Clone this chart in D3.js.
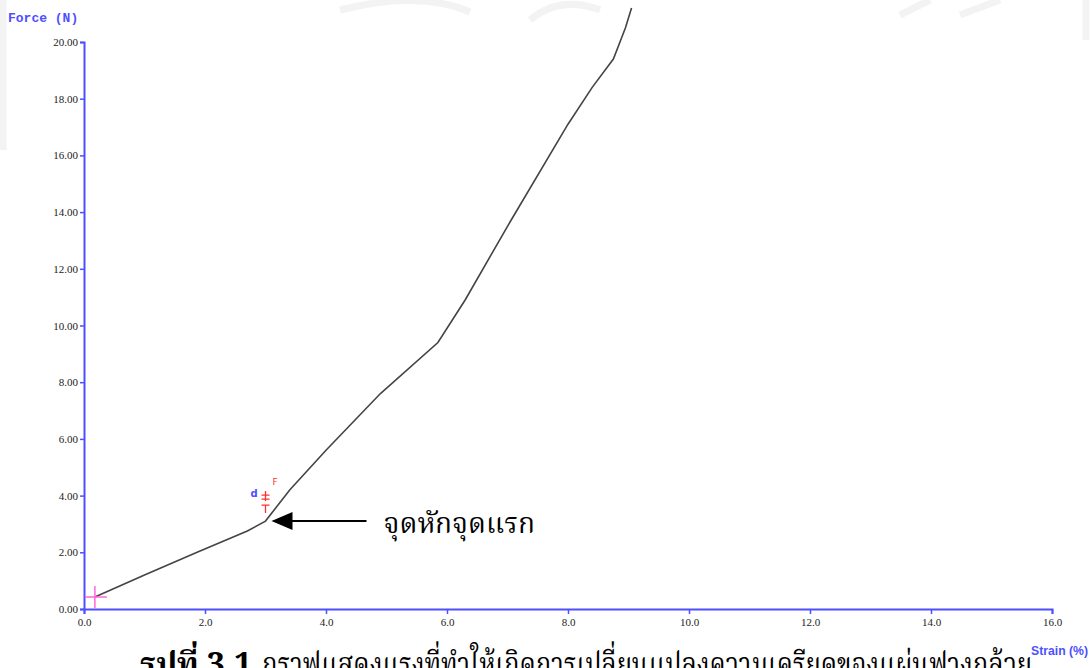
<!DOCTYPE html>
<html>

<head>
  <meta charset="utf-8">
  <title></title>
  <script src="https://cdnjs.cloudflare.com/ajax/libs/d3/7.8.5/d3.min.js"></script>
  <style>
    body { margin: 0; background: #fff; overflow: hidden; }
  </style>
</head>

<body>
<script>
const width = 1091;
const height = 668;

// strain (%) and force (N)
const strain = [0.18, 1.0, 1.87, 2.7, 3.0, 3.4, 4.0, 4.9, 5.85, 6.3, 7.0, 8.0, 8.4, 8.75, 8.95, 9.05];
const force  = [0.42, 1.2, 2.0, 2.75, 3.1, 4.2, 5.6, 7.6, 9.4, 10.9, 13.5, 17.1, 18.4, 19.4, 20.5, 21.2];

const xTicks = [0, 2, 4, 6, 8, 10, 12, 14, 16];
const yTicks = [0, 2, 4, 6, 8, 10, 12, 14, 16, 18, 20];

const startPoint = [0.18, 0.42];
const breakPoint = [3.0, 3.1];

const breakLabel = 'จุดหักจุดแรก';
const captionBold = 'รูปที่ 3.1';
const captionText = 'กราฟแสดงแรงที่ทำให้เกิดการเปลี่ยนแปลงความเครียดของแผ่นฟางกล้วย';

const blue = '#4f4fff';

const svg = d3.select('body').append('svg')
	.attr('width', width)
	.attr('height', height);

const xScale = d3.scaleLinear()
	.domain([0, 16])
	.range([84, 1052]);

const yScale = d3.scaleLinear()
	.domain([0, 20])
	.range([609, 42]);

// faint watermark bits
const wm = svg.append('g').attr('fill', 'none').attr('stroke', '#f3f3f3').attr('stroke-width', 7);
wm.append('line').attr('x1', 3).attr('y1', 0).attr('x2', 3).attr('y2', 150);
wm.append('line').attr('x1', 1086).attr('y1', 0).attr('x2', 1086).attr('y2', 40);
wm.append('path').attr('d', 'M340,10 Q420,-10 470,12');
wm.append('path').attr('d', 'M530,20 Q560,-5 600,10');
wm.append('path').attr('d', 'M900,15 L930,0 M960,15 L1000,0');

// axes
const xAxis = d3.axisBottom(xScale)
	.tickValues(xTicks)
	.tickSize(5)
	.tickPadding(4)
	.tickFormat(d3.format('.1f'));

const yAxis = d3.axisLeft(yScale)
	.tickValues(yTicks)
	.tickSize(4)
	.tickPadding(2)
	.tickFormat(d3.format('.2f'));

const gx = svg.append('g')
	.attr('transform', 'translate(0 ' + yScale(0) + ')')
	.call(xAxis);

const gy = svg.append('g')
	.attr('transform', 'translate(' + xScale(0) + ' 0)')
	.call(yAxis);

[gx, gy].forEach((g) => {
	g.select('.domain').attr('stroke', blue).attr('stroke-width', 2);
	g.selectAll('.tick line').attr('stroke', blue).attr('stroke-width', 1.5);
	g.selectAll('.tick text')
		.attr('fill', '#222')
		.style('font-family', 'Liberation Serif, serif')
		.style('font-size', '11px');
});

// axis titles
svg.append('text')
	.attr('x', 8)
	.attr('y', 22)
	.attr('fill', blue)
	.style('font-family', 'Liberation Mono, DejaVu Sans Mono, monospace')
	.style('font-size', '13px')
	.style('font-weight', 'bold')
	.text('Force  (N)');

// curve
svg.append('path')
	.datum(d3.zip(strain, force))
	.attr('fill', 'none')
	.attr('stroke', '#444')
	.attr('stroke-width', 1.6)
	.attr('d', d3.line()
		.x((d) => xScale(d[0]))
		.y((d) => yScale(d[1]))
	);

// start marker (pink cross)
const sx = xScale(startPoint[0]);
const sy = yScale(startPoint[1]);
svg.append('path')
	.attr('d', 'M' + (sx - 10) + ',' + sy + 'H' + (sx + 12) + 'M' + sx + ',' + (sy - 11) + 'V' + (sy + 11))
	.attr('stroke', '#ff66dd')
	.attr('stroke-width', 1.5)
	.attr('fill', 'none');

// break point markers
const bx = xScale(breakPoint[0]);
const by = yScale(breakPoint[1]);
svg.append('path')
	.attr('d', 'M' + (bx - 4) + ',' + (by - 16) + 'H' + (bx + 4) + 'M' + bx + ',' + (by - 16) + 'V' + (by - 8)
		+ 'M' + (bx - 4) + ',' + (by - 26) + 'H' + (bx + 4) + 'M' + (bx - 4) + ',' + (by - 22) + 'H' + (bx + 4)
		+ 'M' + bx + ',' + (by - 30) + 'V' + (by - 20))
	.attr('stroke', '#ff3030')
	.attr('stroke-width', 1.3)
	.attr('fill', 'none');
svg.append('text')
	.attr('x', bx + 7)
	.attr('y', by - 36)
	.attr('fill', '#ff3030')
	.style('font-family', 'DejaVu Sans, sans-serif')
	.style('font-size', '9px')
	.text('F');
svg.append('text')
	.attr('x', bx - 15)
	.attr('y', by - 24)
	.attr('fill', '#4f4fff')
	.style('font-family', 'DejaVu Sans, sans-serif')
	.style('font-size', '10px')
	.style('font-weight', 'bold')
	.text('d');

// arrow + label
svg.append('line')
	.attr('x1', bx + 26)
	.attr('y1', by)
	.attr('x2', bx + 101)
	.attr('y2', by)
	.attr('stroke', '#000')
	.attr('stroke-width', 2);
svg.append('path')
	.attr('d', 'M' + (bx + 6) + ',' + by + 'L' + (bx + 27) + ',' + (by - 9) + 'L' + (bx + 27) + ',' + (by + 9) + 'Z')
	.attr('fill', '#000');
svg.append('text')
	.attr('x', bx + 118)
	.attr('y', by + 12)
	.attr('fill', '#000')
	.style('font-family', 'Noto Serif Thai, Noto Sans Thai, Loma, serif')
	.style('font-size', '28px')
	.text(breakLabel);

// caption (cut off by the bottom edge)
svg.append('text')
	.attr('x', 140)
	.attr('y', 675)
	.attr('fill', '#000')
	.style('font-family', 'Noto Serif Thai, Noto Sans Thai, Loma, serif')
	.style('font-size', '32px')
	.style('font-weight', 'bold')
	.text(captionBold);
svg.append('text')
	.attr('x', 262)
	.attr('y', 675)
	.attr('fill', '#000')
	.attr('textLength', 770)
	.attr('lengthAdjust', 'spacingAndGlyphs')
	.style('font-family', 'Noto Serif Thai, Noto Sans Thai, Loma, serif')
	.style('font-size', '32px')
	.text(captionText);

svg.append('text')
	.attr('x', 1031)
	.attr('y', 655)
	.attr('fill', blue)
	.attr('textLength', 57)
	.attr('lengthAdjust', 'spacingAndGlyphs')
	.style('font-family', 'Liberation Sans Narrow, Liberation Sans, sans-serif')
	.style('font-size', '12px')
	.style('font-weight', 'bold')
	.text('Strain (%)');
</script>

</body>

</html>
